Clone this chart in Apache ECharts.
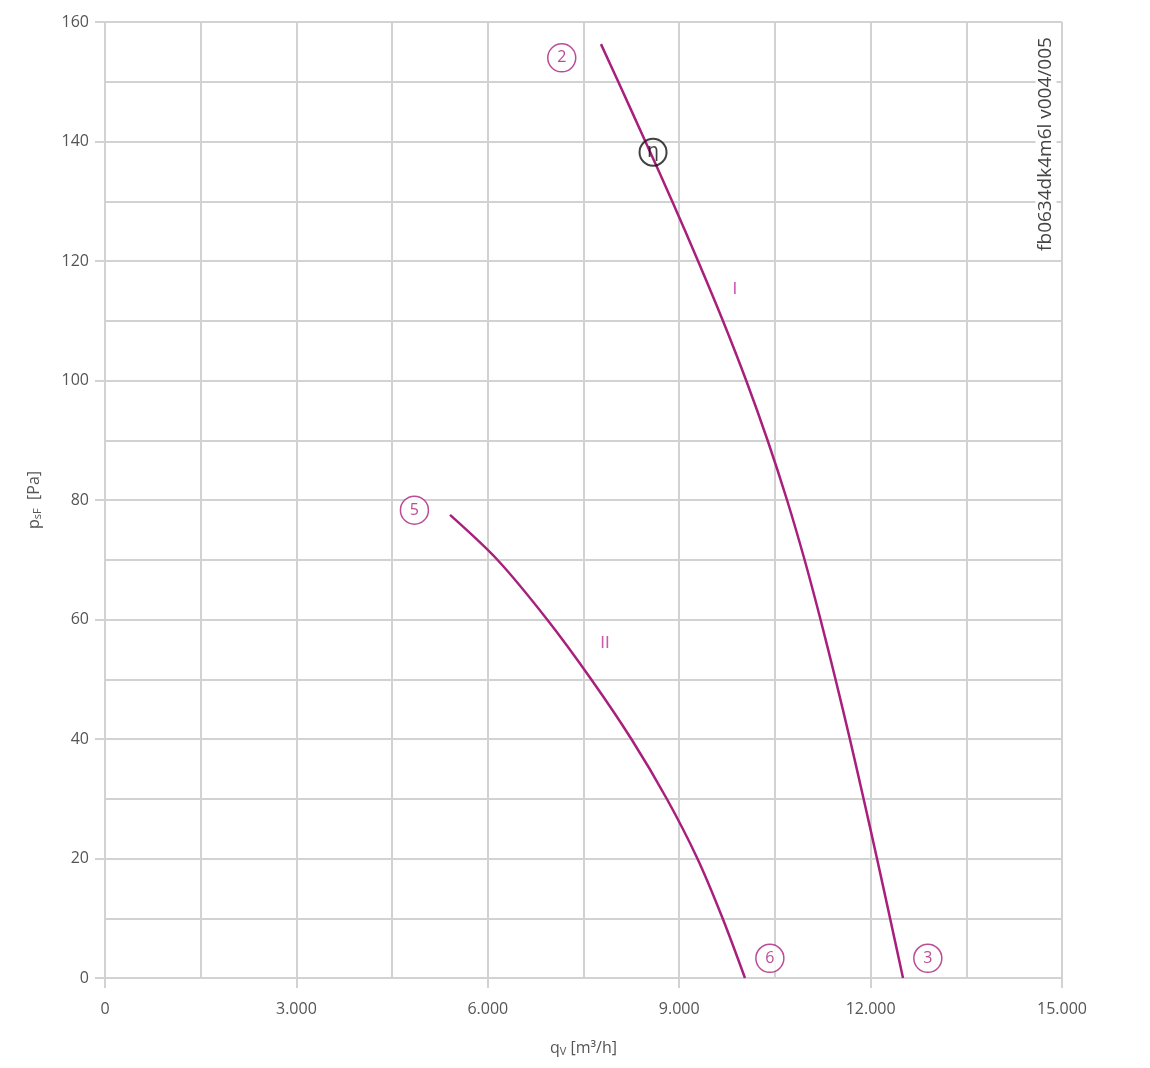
<!DOCTYPE html>
<html>
<head>
<meta charset="utf-8">
<script src="https://cdn.jsdelivr.net/npm/echarts@6/dist/echarts.min.js"></script>
<style>
  html, body { margin: 0; padding: 0; background: #fff; }
  #chart { width: 1150px; height: 1068px; }
</style>
</head>
<body>
<div id="chart"></div>
<script>
// curve I: [qV, psF]
const curveI = [
  [7774, 156.3], [8045, 150], [8470, 140], [8890, 130], [9295, 120],
  [9685, 110], [10050, 100], [10385, 90], [10690, 80], [10965, 70],
  [11215, 60], [11450, 50], [11675, 40], [11890, 30], [12100, 20],
  [12305, 10], [12508, 0]
]
// curve II
const curveII = [
  [5408, 77.5], [6150, 70], [6930, 60], [7620, 50], [8250, 40],
  [8805, 30], [9285, 20], [9680, 10], [10031, 0]
]
// circled point markers
const pointMarks = [
  { value: [7159, 154.0], name: '2' },
  { value: [4850, 78.3], name: '5' },
  { value: [10421, 3.3], name: '6' },
  { value: [12897, 3.3], name: '3' }
]
const etaMark = [{ value: [8590, 138.2], name: 'η' }]
const curveLabels = [
  { value: [9873, 115.3], name: 'I' },
  { value: [7837, 56.0], name: 'II' }
]

const magenta = '#a8207c'
const gridColor = '#d2d2d2'

const chart = echarts.init(document.getElementById('chart'))

const axisCommon = {
  type: 'value',
  axisLine: { show: true, lineStyle: { color: gridColor, width: 2 } },
  axisTick: { show: true, length: 10, lineStyle: { color: gridColor, width: 2 } },
  splitLine: { show: true, lineStyle: { color: gridColor, width: 2 } },
  minorTick: { show: false, splitNumber: 2 },
  minorSplitLine: { show: true, lineStyle: { color: gridColor, width: 2 } },
  axisLabel: { color: '#555', fontSize: 16, fontFamily: 'Open Sans' }
}

const nameRich = {
  q: { fontSize: 16, color: '#555', fontFamily: 'Open Sans' },
  sub: { fontSize: 11, color: '#555', verticalAlign: 'bottom', padding: [6, 0, 0, 0], fontFamily: 'Open Sans' }
}

chart.setOption({
  backgroundColor: '#fff',
  animation: false,
  grid: { left: 105, right: 88, top: 22, bottom: 90 },
  xAxis: Object.assign({}, axisCommon, {
    min: 0, max: 15000, interval: 3000,
    axisLabel: Object.assign({}, axisCommon.axisLabel, {
      margin: 23,
      formatter: v => v === 0 ? '0' : (v / 1000).toFixed(3)
    }),
    name: '{q|q}{sub|V} [m³/h]',
    nameLocation: 'middle',
    nameGap: 62,
    nameTextStyle: { color: '#555', fontSize: 16, fontFamily: 'Open Sans', rich: nameRich }
  }),
  yAxis: Object.assign({}, axisCommon, {
    min: 0, max: 160, interval: 20,
    axisLabel: Object.assign({}, axisCommon.axisLabel, { margin: 16 }),
    name: '{q|p}{sub|sF}  [Pa]',
    nameLocation: 'middle',
    nameRotate: 90,
    nameGap: 62,
    nameTextStyle: { color: '#555', fontSize: 16, fontFamily: 'Open Sans', rich: nameRich }
  }),
  graphic: [{
    type: 'text',
    x: 1046, y: 144,
    z: 100,
    rotation: Math.PI / 2,
    style: {
      text: 'fb0634dk4m6l v004/005',
      fill: '#444',
      font: '19px "Open Sans"',
      align: 'center',
      verticalAlign: 'middle',
      backgroundColor: '#fff',
      padding: [1, 3]
    }
  }],
  series: [
    {
      type: 'line', data: curveI, smooth: 0.3, showSymbol: false,
      lineStyle: { color: magenta, width: 2.5 }, z: 3
    },
    {
      type: 'line', data: curveII, smooth: 0.3, showSymbol: false,
      lineStyle: { color: magenta, width: 2.5 }, z: 3
    },
    {
      type: 'scatter', data: pointMarks, symbol: 'circle', symbolSize: 28,
      itemStyle: { color: '#fff', borderColor: magenta, borderWidth: 1.5 },
      label: { show: true, position: 'inside', formatter: p => p.name, color: magenta, fontSize: 16, fontFamily: 'Open Sans' },
      z: 4
    },
    {
      type: 'scatter', data: etaMark, symbol: 'circle', symbolSize: 27,
      itemStyle: { color: 'rgba(255,255,255,0)', borderColor: '#111', borderWidth: 2 },
      label: { show: true, position: 'inside', formatter: p => p.name, color: '#111', fontSize: 19, fontFamily: 'DejaVu Sans' },
      z: 5
    },
    {
      type: 'scatter', data: curveLabels, symbolSize: 0,
      label: { show: true, position: 'inside', formatter: p => p.name, color: '#c0309a', fontSize: 17, fontFamily: 'Liberation Sans' },
      z: 4
    }
  ]
})
</script>
</body>
</html>
